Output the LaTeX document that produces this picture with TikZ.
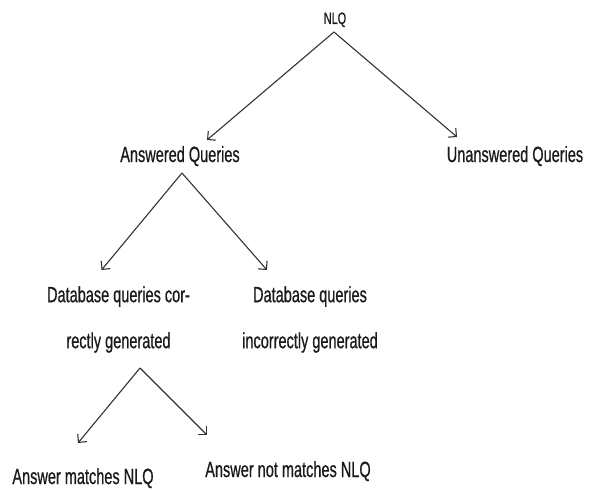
\documentclass[tikz,border=0pt]{standalone}
\usepackage{fontspec}
\setmainfont{Liberation Sans}[FakeStretch=0.66,FakeBold=0.6]
\usetikzlibrary{arrows.meta,calc}
\definecolor{ink}{HTML}{1A1A1A}
\definecolor{wire}{HTML}{333333}
\begin{document}
\begin{tikzpicture}[x=1pt,y=-1pt,
  lbl/.style={inner sep=0pt,text=ink,font=\fontsize{22}{46}\selectfont,align=center},
  small/.style={inner sep=0pt,text=ink,font=\fontsize{16.5}{18}\selectfont},
  arr/.style={draw=wire,line width=1.1pt,-{Straight Barb[length=6pt,width=12pt,line width=1.1pt]}}]
\useasboundingbox[fill=white] (0,0) rectangle (593,489);

% tree levels
\node[small,anchor=base] (nlq) at (335,24) {NLQ};
\node[lbl,anchor=base] (aq) at (180,162) {Answered Queries};
\node[lbl,anchor=base] (uq) at (515,162) {Unanswered Queries};
\node[lbl] (cor) at (118.5,319.5) {Database queries cor-\\rectly generated};
\node[lbl] (inc) at (310,319.5) {Database queries\\incorrectly generated};
\node[lbl,anchor=base] (am) at (83,484) {Answer matches NLQ};
\node[lbl,anchor=base] (anm) at (288,477) {Answer not matches NLQ};

% branches
\draw[arr] ($(nlq.base)+(-1,8)$) -- ($(aq.base)+(27,-22)$);
\draw[arr] ($(nlq.base)+(-1,8)$) -- ($(uq.base)+(-58,-25)$);
\draw[arr] ($(aq.base)+(2,11)$) -- ($(cor.center)+(-17,-49.5)$);
\draw[arr] ($(aq.base)+(2,11)$) -- ($(inc.center)+(-43,-49.5)$);
\draw[arr] ($(cor.center)+(21.5,48.5)$) -- ($(am.base)+(-5,-41)$);
\draw[arr] ($(cor.center)+(21.5,48.5)$) -- ($(anm.base)+(-81,-42)$);
\end{tikzpicture}
\end{document}
